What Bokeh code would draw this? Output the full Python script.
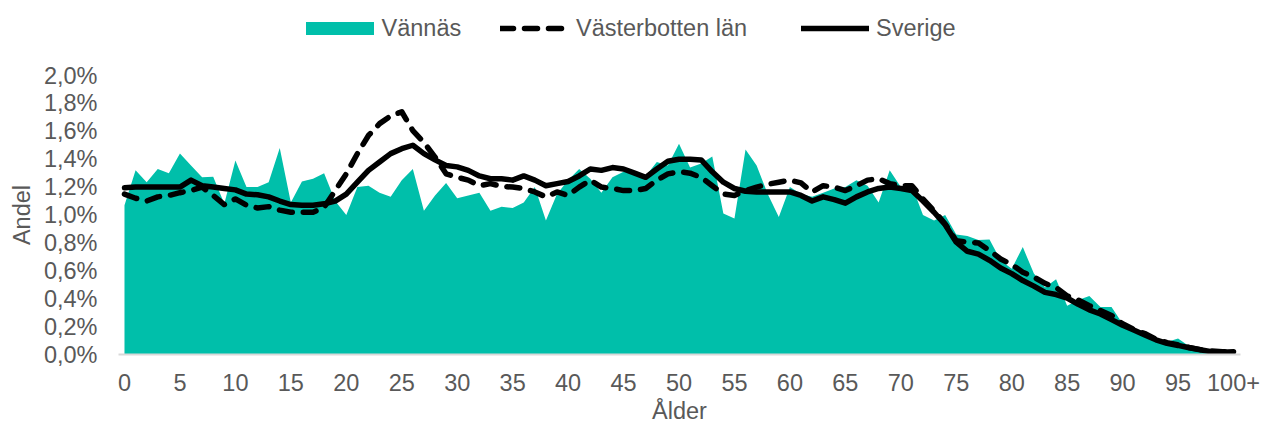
from bokeh.plotting import figure
from bokeh.layouts import column
from bokeh.models import Range1d, FixedTicker, CustomJSTickFormatter, Legend, LegendItem
from bokeh.embed import file_html
from bokeh.resources import INLINE

# ---- data -------------------------------------------------------------
ages = list(range(101))

vannas = [1.07, 1.32, 1.235, 1.33, 1.30, 1.44, 1.355, 1.27, 1.275, 1.08,
          1.39, 1.20, 1.20, 1.235, 1.48, 1.09, 1.24, 1.26, 1.30, 1.10,
          1.00, 1.20, 1.21, 1.16, 1.13, 1.25, 1.33, 1.03, 1.14, 1.23,
          1.12, 1.14, 1.16, 1.03, 1.06, 1.05, 1.09, 1.20, 0.96, 1.15,
          1.25, 1.33, 1.26, 1.16, 1.27, 1.31, 1.30, 1.28, 1.38, 1.355,
          1.51, 1.34, 1.37, 1.42, 1.01, 0.975, 1.47, 1.355, 1.15, 0.985,
          1.20, 1.15, 1.13, 1.16, 1.19, 1.20, 1.25, 1.21, 1.09, 1.32,
          1.20, 1.21, 1.00, 0.96, 1.00, 0.86, 0.85, 0.82, 0.825, 0.675,
          0.615, 0.77, 0.58, 0.48, 0.54, 0.35, 0.39, 0.42, 0.34, 0.34,
          0.22, 0.19, 0.16, 0.12, 0.09, 0.115, 0.06, 0.04, 0.03, 0.02,
          0.03]

vasterbotten = [1.15, 1.12, 1.10, 1.13, 1.14, 1.16, 1.175, 1.20, 1.14, 1.075,
                1.115, 1.07, 1.05, 1.06, 1.035, 1.02, 1.02, 1.02, 1.055, 1.175,
                1.295, 1.44, 1.57, 1.655, 1.71, 1.74, 1.605, 1.52, 1.415, 1.295,
                1.27, 1.25, 1.21, 1.225, 1.205, 1.20, 1.19, 1.165, 1.13, 1.165,
                1.14, 1.20, 1.25, 1.20, 1.19, 1.175, 1.175, 1.19, 1.25, 1.295,
                1.31, 1.30, 1.27, 1.21, 1.15, 1.14, 1.175, 1.20, 1.22, 1.235,
                1.25, 1.23, 1.165, 1.21, 1.20, 1.175, 1.21, 1.25, 1.26, 1.225,
                1.21, 1.21, 1.115, 1.03, 0.935, 0.815, 0.805, 0.80, 0.745, 0.685,
                0.645, 0.59, 0.555, 0.51, 0.48, 0.42, 0.39, 0.35, 0.315, 0.28,
                0.22, 0.18, 0.15, 0.11, 0.085, 0.07, 0.05, 0.035, 0.025, 0.02,
                0.02]

sverige = [1.195, 1.20, 1.20, 1.20, 1.20, 1.20, 1.25, 1.21, 1.20, 1.19,
           1.18, 1.15, 1.145, 1.13, 1.10, 1.075, 1.07, 1.07, 1.08, 1.10,
           1.15, 1.235, 1.32, 1.38, 1.44, 1.475, 1.50, 1.44, 1.395, 1.355,
           1.345, 1.32, 1.28, 1.26, 1.26, 1.25, 1.28, 1.25, 1.21, 1.225,
           1.24, 1.28, 1.33, 1.32, 1.34, 1.33, 1.30, 1.27, 1.33, 1.385,
           1.40, 1.40, 1.395, 1.31, 1.235, 1.19, 1.17, 1.165, 1.165, 1.165,
           1.165, 1.14, 1.10, 1.13, 1.11, 1.085, 1.13, 1.165, 1.19, 1.20,
           1.19, 1.175, 1.10, 1.02, 0.93, 0.805, 0.74, 0.72, 0.675, 0.62,
           0.58, 0.53, 0.49, 0.445, 0.43, 0.405, 0.36, 0.32, 0.29, 0.25,
           0.21, 0.175, 0.14, 0.105, 0.08, 0.065, 0.048, 0.034, 0.02, 0.017,
           0.02]

series_names = ["Vännäs", "Västerbotten län", "Sverige"]

x_ticks = list(range(0, 101, 5))
x_tick_labels = ["0", "5", "10", "15", "20", "25", "30", "35", "40", "45", "50",
                 "55", "60", "65", "70", "75", "80", "85", "90", "95", "100+"]
y_ticks = [0.0, 0.2, 0.4, 0.6, 0.8, 1.0, 1.2, 1.4, 1.6, 1.8, 2.0]
y_tick_labels = ["0,0%", "0,2%", "0,4%", "0,6%", "0,8%", "1,0%",
                 "1,2%", "1,4%", "1,6%", "1,8%", "2,0%"]

# ---- style ------------------------------------------------------------
FONT = "Liberation Sans"
TXT = "#595959"
TEAL = "#00BFAA"
FS = "23.5px"
W = 1261
TOP_H = 53
MAIN_H = 426 - TOP_H

AREA_STYLE = dict(fill_color=TEAL)
DASH_STYLE = dict(line_color="black", line_width=5.5, line_dash="13 11",
                  line_cap="round", line_join="round")
SOLID_STYLE = dict(line_color="black", line_width=5.5,
                   line_cap="round", line_join="round")

LEG_COMMON = dict(orientation="horizontal", padding=0, margin=0,
                  label_height=24, label_text_font=FONT,
                  label_text_font_size=FS, label_text_color=TXT,
                  border_line_color=None, background_fill_alpha=0)

# ---- legend strip (top) ------------------------------------------------
# the data is drawn here too, but outside this strip's view: only the keys show
top = figure(width=W, height=TOP_H, output_backend="svg", toolbar_location=None,
             x_range=Range1d(-300, -200), y_range=Range1d(0, 1),
             x_axis_location=None, y_axis_location=None,
             min_border_left=0, min_border_right=0,
             min_border_top=0, min_border_bottom=0)
top.outline_line_color = None
top.grid.visible = False
k_area = top.varea(x=ages, y1=[0] * len(ages), y2=vannas, **AREA_STYLE)
k_vb = top.line(ages, vasterbotten, **DASH_STYLE)
k_sv = top.line(ages, sverige, **SOLID_STYLE)

leg_a = Legend(items=[LegendItem(label=series_names[0], renderers=[k_area])],
               location=(178.5, 11.5), glyph_width=85, glyph_height=16,
               label_standoff=-3, **LEG_COMMON)
leg_b = Legend(items=[LegendItem(label=series_names[1], renderers=[k_vb])],
               location=(382, 11.5), glyph_width=68, glyph_height=16,
               label_standoff=8, **LEG_COMMON)
leg_c = Legend(items=[LegendItem(label=series_names[2], renderers=[k_sv])],
               location=(683, 11.5), glyph_width=68, glyph_height=16,
               label_standoff=7, **LEG_COMMON)
for lg in (leg_a, leg_b, leg_c):
    top.add_layout(lg, "center")

# ---- main chart ---------------------------------------------------------
p = figure(width=W, height=MAIN_H,
           output_backend="svg", toolbar_location=None,
           x_range=Range1d(-0.54, 100.63), y_range=Range1d(0, 2.0),
           min_border_left=118, min_border_right=21,
           min_border_top=75 - TOP_H, min_border_bottom=72)
p.outline_line_color = None
p.grid.visible = False

p.varea(x=ages, y1=[0] * len(ages), y2=vannas, **AREA_STYLE)
p.line(ages, vasterbotten, **DASH_STYLE)
p.line(ages, sverige, **SOLID_STYLE)

# x axis
xa = p.xaxis[0]
xa.ticker = FixedTicker(ticks=x_ticks)
xa.formatter = CustomJSTickFormatter(args=dict(labels=x_tick_labels),
                                     code="return labels[Math.round(tick/5)];")
xa.axis_line_color = "#D9D9D9"
xa.axis_line_width = 2
xa.major_tick_line_color = None
xa.minor_tick_line_color = None
xa.major_tick_out = 0
xa.major_tick_in = 0
xa.major_label_standoff = 19
xa.major_label_text_font = FONT
xa.major_label_text_font_size = FS
xa.major_label_text_color = TXT
xa.axis_label = "Ålder"
xa.axis_label_text_font = FONT
xa.axis_label_text_font_size = FS
xa.axis_label_text_font_style = "normal"
xa.axis_label_text_color = TXT
xa.axis_label_standoff = 4

# y axis
ya = p.yaxis[0]
ya.ticker = FixedTicker(ticks=y_ticks)
ya.formatter = CustomJSTickFormatter(args=dict(labels=y_tick_labels),
                                     code="return labels[Math.round(tick/0.2)];")
ya.axis_line_color = None
ya.major_tick_line_color = None
ya.minor_tick_line_color = None
ya.major_tick_out = 0
ya.major_tick_in = 0
ya.major_label_standoff = 21
ya.major_label_text_font = FONT
ya.major_label_text_font_size = FS
ya.major_label_text_color = TXT
ya.axis_label = "Andel"
ya.axis_label_text_font = FONT
ya.axis_label_text_font_size = FS
ya.axis_label_text_font_style = "normal"
ya.axis_label_text_color = TXT
ya.axis_label_standoff = 6

layout = column(top, p, spacing=0)
open("out.html", "w").write(file_html(layout, INLINE))
